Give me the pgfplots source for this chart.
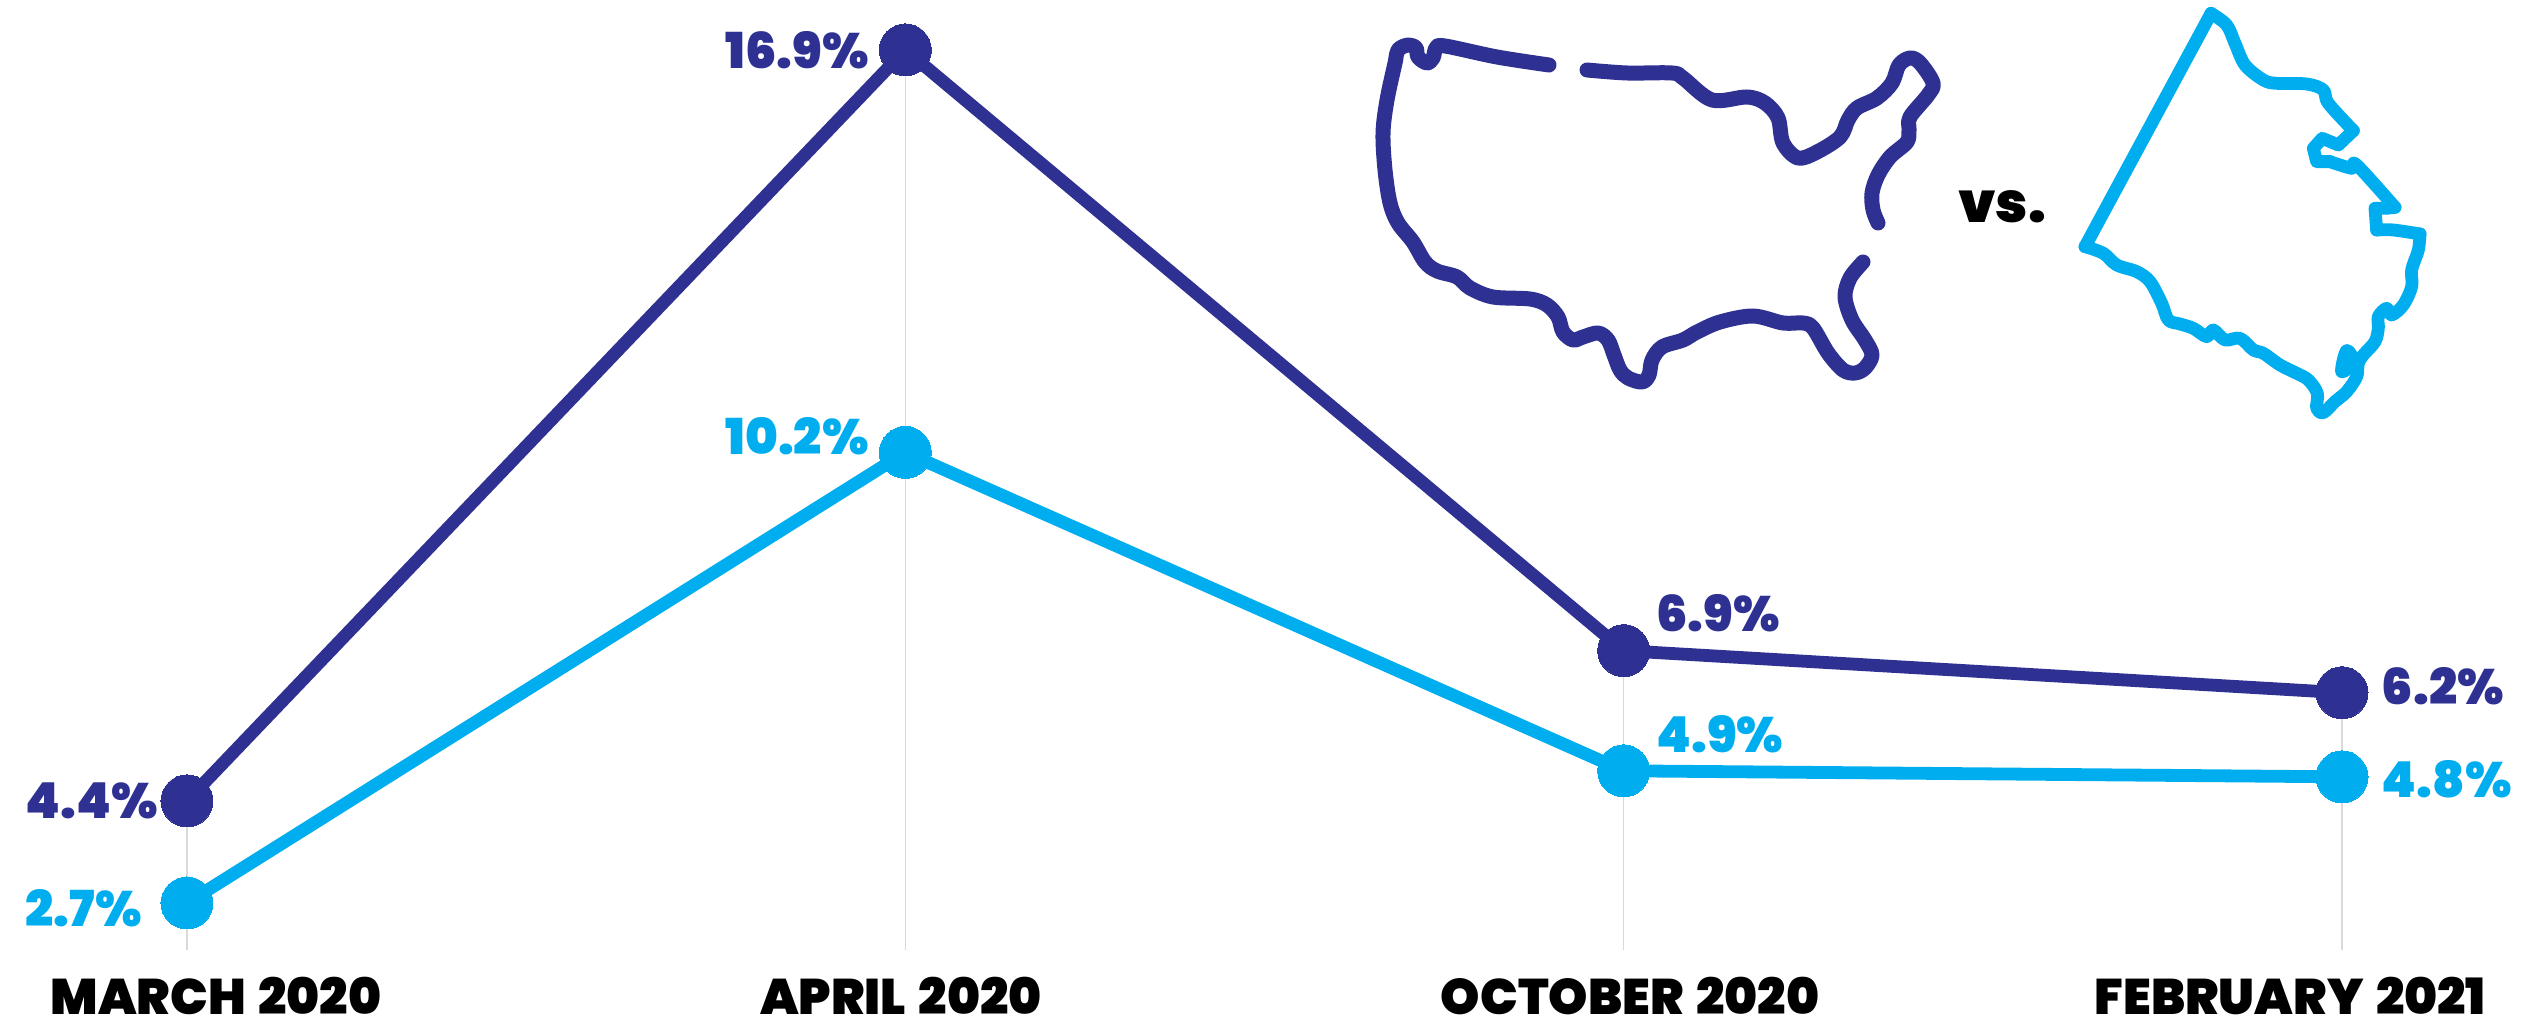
\documentclass[border=0pt]{standalone}
\usepackage{fontspec}
\newfontfamily\hv[WordSpace=1.5]{Poppins Black}
\usepackage{pgfplots}
\pgfplotsset{compat=1.18}
\definecolor{usblue}{HTML}{2E3192}
\definecolor{riblue}{HTML}{00AEEF}
\definecolor{rule}{HTML}{D9D9D9}
\pgfplotstableread{
x us ri
0 4.4 2.7
1 16.9 10.2
2 6.9 4.9
3 6.2 4.8
}\rates
\begin{document}
\begin{tikzpicture}[x=1pt,y=1pt]
\path[use as bounding box] (0,0) rectangle (631,254.5);
\begin{axis}[
  at={(0pt,12pt)},anchor=south west,
  scale only axis,width=631pt,height=242.5pt,
  xmin=-0.2603,xmax=3.2534,ymin=1.5846,ymax=17.73,
  axis line style={draw=none},
  major tick length=0pt,
  ytick=\empty,
  xtick={0.0404,0.994,2.009,2.928},
  xticklabels={MARCH 2020,APRIL 2020,OCTOBER 2020,FEBRUARY 2021},
  xticklabel style={font=\hv\fontsize{12.5}{13}\selectfont,text=black,anchor=north,inner sep=0pt,yshift=-1.7pt},
  clip=false,
]
\addplot[rule,line width=0.4pt,forget plot] coordinates {(0,1.92) (0,4.4)};
\addplot[rule,line width=0.4pt,forget plot] coordinates {(1,1.92) (1,16.9)};
\addplot[rule,line width=0.4pt,forget plot] coordinates {(2,1.92) (2,6.9)};
\addplot[rule,line width=0.4pt,forget plot] coordinates {(3,1.92) (3,6.2)};
\addplot[riblue,line width=3.2pt,mark=*,mark size=6.5pt,mark options={fill=riblue,draw=riblue,line width=0pt}] table[x=x,y=ri] {\rates};
\addplot[usblue,line width=3.2pt,mark=*,mark size=6.5pt,mark options={fill=usblue,draw=usblue,line width=0pt}] table[x=x,y=us] {\rates};
\tikzset{lab/.style={inner sep=0pt,font=\hv\fontsize{12.4}{13}\selectfont}}
\node[lab,text=usblue,anchor=west,xshift=-40.5pt] at (axis cs:0,4.4) {4.4\%};
\node[lab,text=riblue,anchor=west,xshift=-40.5pt,yshift=-1.25pt] at (axis cs:0,2.7) {2.7\%};
\node[lab,text=usblue,anchor=east,xshift=-9pt] at (axis cs:1,16.9) {16.9\%};
\node[lab,text=riblue,anchor=east,xshift=-9pt,yshift=4pt] at (axis cs:1,10.2) {10.2\%};
\node[lab,text=usblue,anchor=west,xshift=8pt,yshift=9.25pt] at (axis cs:2,6.9) {6.9\%};
\node[lab,text=riblue,anchor=west,xshift=8pt,yshift=9.25pt] at (axis cs:2,4.9) {4.9\%};
\node[lab,text=usblue,anchor=west,xshift=9.75pt,yshift=1.5pt] at (axis cs:3,6.2) {6.2\%};
\node[lab,text=riblue,anchor=west,xshift=9.75pt,yshift=-0.5pt] at (axis cs:3,4.8) {4.8\%};
\end{axis}
% United States outline (reference pixels)
\begin{scope}[shift={(0pt,254.5pt)},x=0.25pt,y=-0.25pt,usblue,line width=3.75pt,line cap=round,line join=round]
\draw plot[smooth,tension=0.55] coordinates {(1549,65) (1497,57) (1445,46) (1436,48) (1433,58) (1427,63) (1418,57) (1416,48) (1408,45) (1398,50) (1395,63) (1387,100) (1383,133) (1385,170) (1390,203) (1398,223) (1413,242) (1425,262) (1437,271) (1457,277) (1470,288) (1493,297) (1530,299) (1547,305) (1558,317) (1563,332) (1573,340) (1583,337) (1598,333) (1608,340) (1614,355) (1620,370) (1628,378) (1642,382) (1649,375) (1652,360) (1662,347) (1683,340) (1697,332) (1720,322) (1753,316) (1783,323) (1803,323) (1813,328) (1828,353) (1843,370) (1855,373) (1865,368) (1872,355) (1865,340) (1852,320) (1845,297) (1850,278) (1863,262)};
\draw plot[smooth,tension=0.55] coordinates {(1587,70) (1627,73) (1672,73) (1683,78) (1712,100) (1747,97) (1765,103) (1778,118) (1783,143) (1798,158) (1817,152) (1840,137) (1848,120) (1857,108) (1877,98) (1892,83) (1899,65) (1910,58) (1920,63) (1933,83) (1928,95) (1910,117) (1909,130) (1907,142) (1890,157) (1878,175) (1872,193) (1873,210) (1878,223)};
\end{scope}
% Second state outline
\begin{scope}[shift={(482.5pt,254.5pt)},x=0.08333pt,y=-0.08333pt,riblue,line width=3.2pt,line cap=round,line join=round]
\draw (465,740) -- (843,40);
\draw plot[smooth,tension=0.55] coordinates {(843,40) (890,75) (915,130) (945,195) (1000,240) (1040,250) (1130,252) (1180,270) (1195,310) (1270,392)};
\draw (1270,392) -- (1225,435) -- (1177,415) -- (1150,445) -- (1160,485) -- (1200,485);
\draw plot[smooth,tension=0.55] coordinates {(1200,485) (1265,505) (1280,495) (1395,622)};
\draw (1395,622) -- (1370,625) -- (1335,625) -- (1340,690);
\draw plot[smooth,tension=0.55] coordinates {(1340,690) (1390,690) (1470,702)};
\draw plot[smooth,tension=0.55] coordinates {(1470,702) (1465,750) (1445,810) (1445,860) (1420,915) (1385,945) (1370,925) (1345,950) (1345,985) (1335,1025) (1300,1065) (1285,1090) (1280,1130) (1250,1175) (1215,1205) (1180,1238) (1160,1225) (1162,1180) (1135,1140) (1100,1120) (1050,1095) (1000,1060) (970,1050) (930,1015) (885,1020) (850,990) (830,1010) (790,985) (750,972) (715,960) (695,910) (660,845) (620,815) (560,795) (520,760) (465,740)};
\draw plot[smooth,tension=0.6] coordinates {(1275,1085) (1250,1052) (1235,1115) (1265,1095)};
\fill (1258,1085) circle[radius=28];
\end{scope}
\node[inner sep=0pt,text=black,font=\hv\fontsize{14}{15}\selectfont] at (500.5pt,202.75pt) {vs.};
\end{tikzpicture}
\end{document}
